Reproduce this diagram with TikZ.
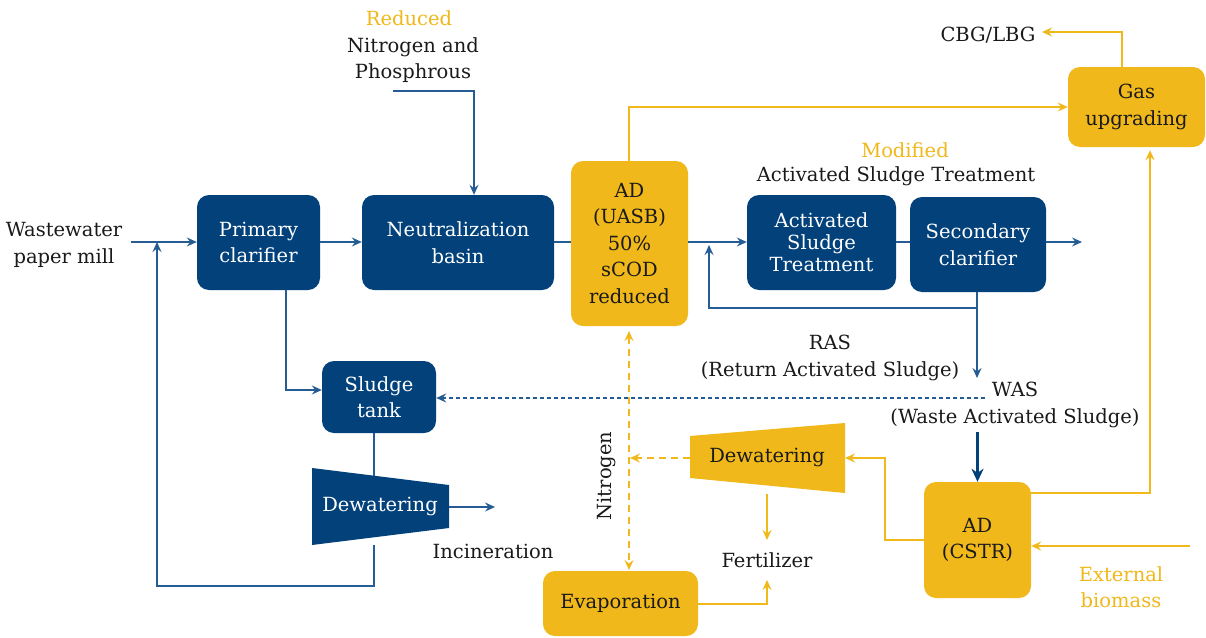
\documentclass[tikz,border=0pt]{standalone}
\usepackage{fontspec}
\setmainfont{DejaVu Serif}
\usetikzlibrary{arrows.meta}
\definecolor{dblue}{HTML}{02417A}
\definecolor{lblue}{HTML}{245C93}
\definecolor{gold}{HTML}{F0B81A}
\definecolor{ink}{HTML}{1A1A1A}
\begin{document}
\begin{tikzpicture}[x=1pt,y=-1pt, font=\fontsize{19.5}{26.5}\selectfont,
 bbox/.style={fill=dblue, rounded corners=12pt, text=white, align=center, inner sep=0pt},
 ybox/.style={fill=gold, rounded corners=12pt, text=ink, align=center, inner sep=0pt},
 lbl/.style={text=ink, align=center, inner sep=0pt},
 ylbl/.style={text=gold, align=center, inner sep=0pt},
 bline/.style={draw=lblue, line width=1.3pt},
 yline/.style={draw=gold, line width=1.3pt},
 arr/.style={-{Stealth[length=10pt,width=9pt,inset=3.5pt]}},
 darr/.style={{Stealth[length=10pt,width=9pt,inset=3.5pt]}-{Stealth[length=10pt,width=9pt,inset=3.5pt]}},
]
\useasboundingbox (0,0) rectangle (1206,637);
\fill[white] (0,0) rectangle (1206,637);

% boxes
\node[bbox, minimum width=123, minimum height=95] (pc) at (258.5,242.5) {Primary\\clarifier};
\node[bbox, minimum width=192, minimum height=95] (nb) at (458,242.5) {Neutralization\\basin};
\node[ybox, minimum width=117, minimum height=165] (ad1) at (629.5,243.5) {AD\\(UASB)\\50\%\\sCOD\\reduced};
\node[bbox, minimum width=149, minimum height=95, font=\fontsize{19.5}{22}\selectfont] (ast) at (821.5,242.5) {Activated\\Sludge\\Treatment};
\node[bbox, minimum width=136, minimum height=95] (sc) at (978,244.5) {Secondary\\clarifier};
\node[ybox, minimum width=137, minimum height=80] (gas) at (1136.5,107) {Gas\\upgrading};
\node[bbox, minimum width=114, minimum height=72] (st) at (379,397) {Sludge\\tank};
\node[ybox, minimum width=107, minimum height=116] (cstr) at (977.5,540) {AD\\(CSTR)};
\node[ybox, minimum width=155, minimum height=65] (evap) at (620.5,603.5) {Evaporation};

% trapezoids
\fill[dblue] (312,468) -- (449,485) -- (449,528) -- (312,545) -- cycle;
\node[lbl, text=white] (dw1) at (380,506) {Dewatering};
\coordinate (dw1top) at (374,475.7);
\coordinate (dw1bot) at (374,545);
\coordinate (dw1r) at (449,507);
\fill[gold] (690,436) -- (845,423) -- (845,493) -- (690,478) -- cycle;
\node[lbl] (dw2) at (767,457) {Dewatering};
\coordinate (dw2r) at (845,458);
\coordinate (dw2l) at (690,458);
\coordinate (dw2b) at (767,494);

% labels
\node[lbl] (ww) at (64,245) {Wastewater\\paper mill};
\node[ylbl] (red) at (409,18) {Reduced};
\node[lbl] (np) at (413,60) {Nitrogen and\\Phosphrous};
\node[ylbl] (mod) at (905,150) {Modified};
\node[lbl] (astl) at (896,176) {Activated Sludge Treatment};
\node[lbl] (cbg) at (988,35) {CBG/LBG};
\node[lbl] (ras) at (830,358) {RAS\\(Return Activated Sludge)};
\node[lbl] (was) at (1015,405) {WAS\\(Waste Activated Sludge)};
\node[lbl] (inc) at (493,551) {Incineration};
\node[lbl, rotate=90] (nit) at (606,476) {Nitrogen};
\node[lbl] (fert) at (767,560) {Fertilizer};
\node[ylbl] (ext) at (1121,587) {External\\biomass};

% coordinates for free ends / junctions
\coordinate (win) at (131,242);
\coordinate (j1) at (157,242);
\coordinate (npst) at (393,91);
\coordinate (j2) at (709,242);
\coordinate (out) at (1082,242);
\coordinate (rasj) at (977,308);
\coordinate (wasend) at (977,378);
\coordinate (wasl) at (985,398);
\coordinate (inc1) at (495,507);
\coordinate (ebst) at (1190,546);
\coordinate (nj) at (630,458);
\coordinate (ntop) at (629,331);
\coordinate (nbot) at (629,570);
\coordinate (gasin) at (629,107);
\coordinate (evout) at (698,604);

% blue connectors
\draw[bline,arr] (win) -- (pc.west |- win);
\draw[bline,arr] (dw1bot) -- (374,586) -- (157,586) -- (j1);
\draw[bline,arr] (pc.east |- win) -- (nb.west |- win);
\draw[bline,arr] (npst) -| ([xshift=16pt]nb.north);
\draw[bline] (nb.east |- win) -- (ad1.west |- win);
\draw[bline,arr] (ad1.east |- win) -- (ast.west |- win);
\draw[bline] (ast.east |- win) -- (sc.west |- win);
\draw[bline,arr] (sc.east |- win) -- (out);
\draw[bline,arr] (sc.south -| rasj) -- (wasend);
\draw[bline,arr] (rasj) -| ([yshift=-3pt]j2);
\draw[bline,dashed,dash pattern=on 4pt off 3pt,arr] (wasl) -- (st.east |- wasl);
\draw[draw=dblue,line width=2.2pt,-{Stealth[length=13pt,width=12pt,inset=4pt]}] (977.5,432) -- (cstr.north);
\draw[bline,arr] ([xshift=27.5pt]pc.south) |- ([yshift=7pt]st.west);
\draw[bline] ([xshift=-5pt]st.south) -- (dw1top);
\draw[bline,arr] (dw1r) -- (inc1);

% gold connectors
\draw[yline,arr] (gasin |- ad1.north) -- (gasin) -- (gas.west |- gasin);
\draw[yline,arr] ([xshift=-14.5pt]gas.north) |- (1042,32);
\draw[yline,arr] ([yshift=47pt]cstr.east) -| ([xshift=13.5pt,yshift=-3pt]gas.south);
\draw[yline,arr] (ebst) -- ([yshift=-6pt]cstr.east);
\draw[yline,arr] ([yshift=0pt]cstr.west) -| (885,458) -- (dw2r);
\draw[yline,dashed,dash pattern=on 7pt off 5pt,arr] (dw2l) -- (nj);
\draw[yline,dashed,dash pattern=on 7pt off 5pt,darr] (ntop) -- (nbot);
\draw[yline,arr] (dw2b) -- (767,540);
\draw[yline,arr] (evap.east |- evout) -| (767,580);
\end{tikzpicture}
\end{document}
